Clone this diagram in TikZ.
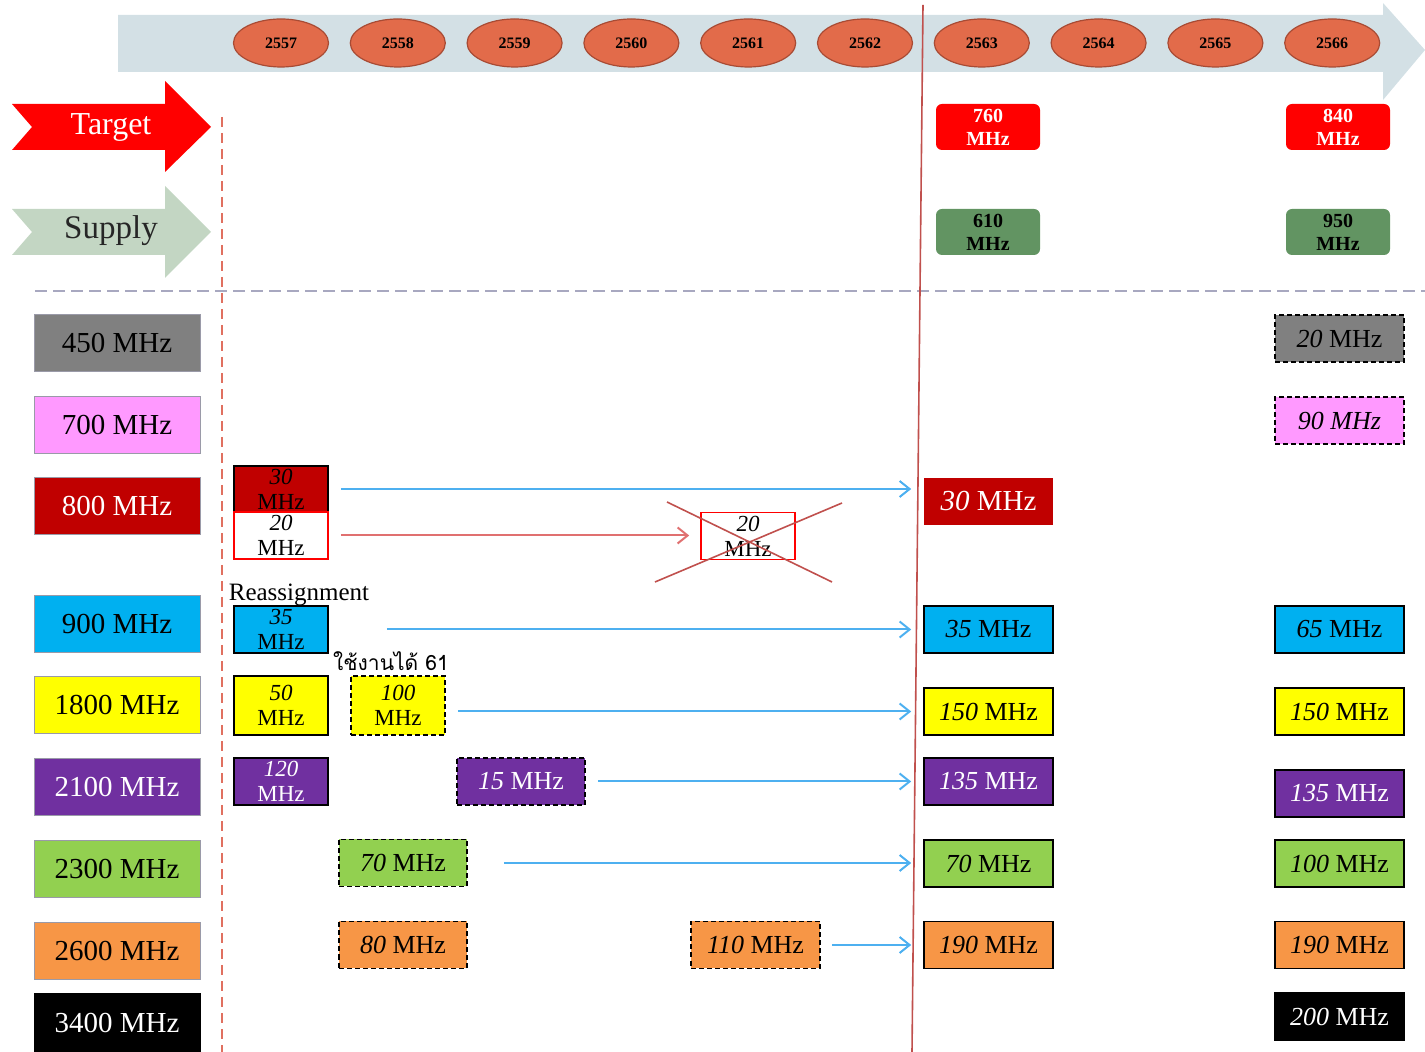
\documentclass[tikz,border=0pt]{standalone}
\usepackage{fontspec}
\setmainfont{Liberation Serif}
\newfontfamily\thaifont[Script=Thai]{Loma}
\usetikzlibrary{arrows.meta,shapes.geometric}
\definecolor{band}{HTML}{D3E0E5}
\definecolor{yrfill}{HTML}{E26B4A}
\definecolor{yrdraw}{HTML}{A84B34}
\definecolor{supplyarrow}{HTML}{C3D6C3}
\definecolor{supplybox}{HTML}{629462}
\definecolor{cgray}{HTML}{808080}
\definecolor{cpink}{HTML}{FF99FF}
\definecolor{cdred}{HTML}{C00000}
\definecolor{cblue}{HTML}{00B0F0}
\definecolor{cyellow}{HTML}{FFFF00}
\definecolor{cpurple}{HTML}{7030A0}
\definecolor{cgreen}{HTML}{92D050}
\definecolor{corange}{HTML}{F79646}
\definecolor{arrowblue}{HTML}{4DB0F0}
\definecolor{arrowred}{HTML}{E07070}
\definecolor{linered}{HTML}{C0504D}
\definecolor{dashred}{HTML}{E07060}
\definecolor{dashgray}{HTML}{A8A8C0}
\definecolor{labdraw}{HTML}{9A9AA8}
\begin{document}
\begin{tikzpicture}[x=0.5pt,y=-0.5pt,
  lab/.style={rectangle,draw=labdraw,line width=0.5pt,minimum width=83pt,minimum height=28.5pt,inner sep=0pt,font=\fontsize{14.5}{16}\selectfont},
  sbox/.style={rectangle,draw=black,line width=0.8pt,minimum width=47pt,minimum height=23.5pt,inner sep=0pt,align=center,font=\fontsize{11.5}{12.5}\selectfont},
  wbox/.style={rectangle,draw=black,line width=0.8pt,minimum width=64.5pt,minimum height=23.5pt,inner sep=0pt,align=center,font=\fontsize{13}{14}\selectfont},
  dbox/.style={dash pattern=on 2.5pt off 1.5pt},
  tbox/.style={rectangle,rounded corners=3pt,minimum width=52pt,minimum height=23pt,inner sep=0pt,align=center,font=\bfseries\fontsize{10}{11.5}\selectfont},
  yr/.style={ellipse,fill=yrfill,draw=yrdraw,line width=0.6pt,minimum width=47.5pt,minimum height=24pt,inner sep=0pt,font=\bfseries\fontsize{8}{9}\selectfont},
  conn/.style={draw=arrowblue,line width=1pt,-{Straight Barb[length=5pt,width=8pt]}},
  rconn/.style={draw=arrowred,line width=1pt,-{Straight Barb[length=5pt,width=8pt]}}
]
\useasboundingbox (0,0) rectangle (1425,1052);

% timeline band
\fill[band] (118,15) -- (1383,15) -- (1383,3) -- (1425,50) -- (1383,100) -- (1383,72) -- (118,72) -- cycle;
\foreach \y [count=\i from 0] in {2557,2558,2559,2560,2561,2562,2563,2564,2565,2566}
  \node[yr] (y\y) at ({281+116.8*\i},43) {\y};

% Target / Supply arrows
\fill[red] (12,104) -- (165,104) -- (165,81) -- (211,127) -- (165,172) -- (165,150) -- (12,150) -- (32,127) -- cycle;
\node[text=white,font=\fontsize{16}{18}\selectfont] (target) at (111,127) {Target};
\fill[supplyarrow] (12,209) -- (165,209) -- (165,186) -- (211,232) -- (165,278) -- (165,255) -- (12,255) -- (32,232) -- cycle;
\node[text=black!85,font=\fontsize{16.5}{18}\selectfont] (supply) at (111,231) {Supply};

% guide lines
\draw[dashred,line width=0.8pt,dash pattern=on 5pt off 3pt] (222,117) -- (222,1052);
\draw[dashgray,line width=0.9pt,dash pattern=on 6pt off 3pt] (35,291) -- (1425,291);
\draw[linered,line width=0.8pt] (923,5) -- (912,1052);

% target/supply boxes
\node[tbox,fill=red,text=white] (t2563) at (988,127) {760\\MHz};
\node[tbox,fill=red,text=white] (t2566) at (1338,127) {840\\MHz};
\node[tbox,fill=supplybox,text=black] (s2563) at (988,232) {610\\MHz};
\node[tbox,fill=supplybox,text=black] (s2566) at (1338,232) {950\\MHz};

% left labels
\node[lab,fill=cgray] (l450) at (117,343.5) {450 MHz};
\node[lab,fill=cpink] (l700) at (117,425.5) {700 MHz};
\node[lab,fill=cdred,text=white] (l800) at (117,506.5) {800 MHz};
\node[lab,fill=cblue] (l900) at (117,624) {900 MHz};
\node[lab,fill=cyellow] (l1800) at (117,705.5) {1800 MHz};
\node[lab,fill=cpurple,text=white] (l2100) at (117,787.5) {2100 MHz};
\node[lab,fill=cgreen] (l2300) at (117,869.5) {2300 MHz};
\node[lab,fill=corange] (l2600) at (117,951) {2600 MHz};
\node[lab,fill=black,draw=black,text=white,minimum height=29.5pt] (l3400) at (117,1022.5) {3400 MHz};

% 2557 column
\node[sbox,fill=cdred,minimum height=23pt] (a800t) at (281,489) {\textit{30}\\MHz};
\node[sbox,fill=white,draw=red] (a800b) at (281,535.5) {\textit{20}\\MHz};
\node[font=\fontsize{12.5}{14}\selectfont,inner sep=0pt] (reass) at (299,595) {Reassignment};
\node[sbox,fill=cblue] (a900) at (281,629.5) {\textit{35}\\MHz};
\node[sbox,fill=cyellow,minimum height=29.5pt] (a1800) at (281,705.5) {\textit{50}\\MHz};
\node[font=\thaifont\fontsize{10.5}{12}\selectfont,inner sep=0pt] (thai) at (391,661) {ใช้งานได้ 61};
\node[sbox,dbox,fill=cyellow,minimum height=29.5pt] (b1800) at (398,705.5) {\textit{100}\\MHz};
\node[sbox,fill=cpurple,text=white] (a2100) at (281,781.5) {\textit{120}\\MHz};
\node[wbox,dbox,fill=cpurple,text=white,minimum width=64pt] (b2100) at (521,781.5) {\textit{15} MHz};
\node[wbox,dbox,fill=cgreen,minimum width=64pt] (b2300) at (403,863) {\textit{70} MHz};
\node[wbox,dbox,fill=corange,minimum width=64pt] (b2600) at (403,945) {\textit{80} MHz};
\node[wbox,dbox,fill=corange] (c2600) at (755.5,945) {\textit{110} MHz};
\node[sbox,fill=white,draw=red] (x800) at (748,536) {\textit{20}\\MHz};
\draw[linered,line width=0.8pt] (667,502) -- (832,582);
\draw[linered,line width=0.8pt] (655,582) -- (842,503);

% 2563 column
\node[wbox,fill=cdred,draw=none,text=white,font=\fontsize{14.5}{16}\selectfont] (d800) at (988.5,501.5) {\textit{30} MHz};
\node[wbox,fill=cblue] (d900) at (988.5,629.5) {\textit{35} MHz};
\node[wbox,fill=cyellow] (d1800) at (988.5,711.5) {\textit{150} MHz};
\node[wbox,fill=cpurple,text=white] (d2100) at (988.5,781.5) {\textit{135} MHz};
\node[wbox,fill=cgreen] (d2300) at (988.5,863.5) {\textit{70} MHz};
\node[wbox,fill=corange] (d2600) at (988.5,945) {\textit{190} MHz};

% 2566 column
\node[wbox,dbox,fill=cgray] (e450) at (1339.5,338.5) {\textit{20} MHz};
\node[wbox,dbox,fill=cpink] (e700) at (1339.5,420.5) {\textit{90 MHz}};
\node[wbox,fill=cblue] (e900) at (1339.5,629.5) {\textit{65} MHz};
\node[wbox,fill=cyellow] (e1800) at (1339.5,711.5) {\textit{150} MHz};
\node[wbox,fill=cpurple,text=white] (e2100) at (1339.5,793.5) {\textit{135} MHz};
\node[wbox,fill=cgreen] (e2300) at (1339.5,863.5) {\textit{100} MHz};
\node[wbox,fill=corange] (e2600) at (1339.5,945) {\textit{190} MHz};
\node[wbox,fill=black,text=white] (e3400) at (1339.5,1016.5) {\textit{200} MHz};

% connectors
\draw[conn,shorten <=6pt,shorten >=6pt] (a800t.east) -- (a800t.east -| d800.west);
\draw[rconn,shorten <=6pt,shorten >=5.5pt] (a800b.east) -- (a800b.east -| x800.west);
\draw[conn,shorten <=29pt,shorten >=6pt] (a900.east) -- (a900.east -| d900.west);
\draw[conn,shorten <=6pt,shorten >=6pt] (d1800.west -| b1800.east) -- (d1800.west);
\draw[conn,shorten <=6pt,shorten >=6pt] (b2100.east) -- (b2100.east -| d2100.west);
\draw[conn,shorten <=18pt,shorten >=6pt] (b2300.east) -- (b2300.east -| d2300.west);
\draw[conn,shorten <=5.5pt,shorten >=6pt] (c2600.east) -- (c2600.east -| d2600.west);
\end{tikzpicture}
\end{document}
